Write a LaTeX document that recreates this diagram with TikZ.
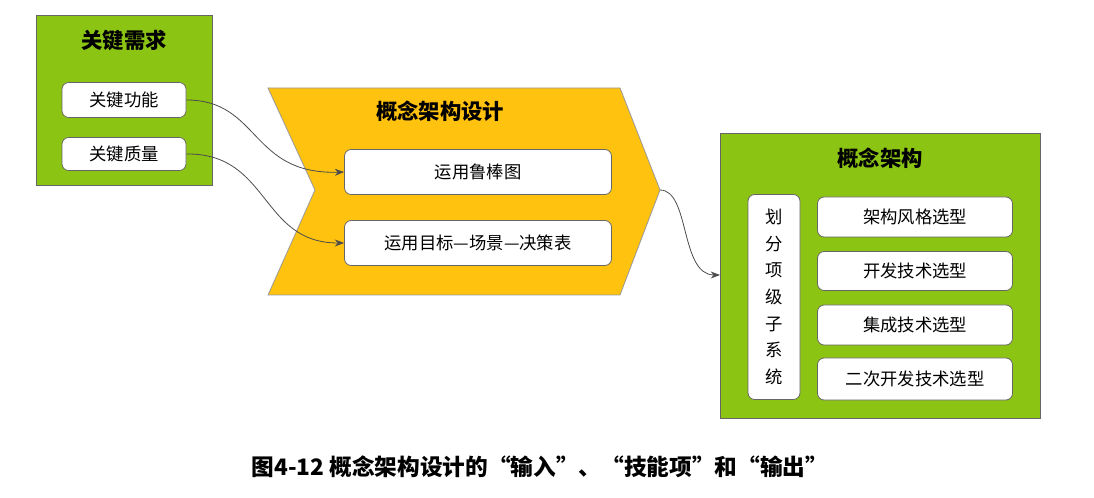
\documentclass[tikz,border=0pt]{standalone}
\usepackage{fontspec}
\setmainfont{Noto Sans CJK SC}
\usetikzlibrary{arrows.meta}
\definecolor{gr}{HTML}{8CC414}
\definecolor{yl}{HTML}{FFC20E}
\tikzset{
 panel/.style={draw=black!60,fill=gr,line width=0.8pt},
 wbox/.style={draw=black!60,fill=white,rounded corners=5pt,line width=0.6pt,font=\fontsize{13}{15}\selectfont},
 ttl/.style={font=\fontsize{16}{18}\selectfont\bfseries},
 conn/.style={draw=black!70,line width=0.6pt,-{Stealth[length=7pt]}}
}
\begin{document}
\begin{tikzpicture}[x=0.75pt,y=-0.75pt]
\useasboundingbox (0,0) rectangle (1094,498);
% left panel
\node[panel,minimum width=176*0.75pt,minimum height=170*0.75pt,anchor=north west] (lp) at (36,15) {};
\node[ttl] (lt) at (124,40) {关键需求};
\node[wbox,minimum width=124*0.75pt,minimum height=35*0.75pt] (kf) at (124,100) {关键功能};
\node[wbox,minimum width=124*0.75pt,minimum height=33*0.75pt] (kq) at (124,154) {关键质量};
% chevron
\draw[draw=black!40,fill=yl,line width=0.6pt] (268,88) -- (620,88) -- (660,190) -- (620,295) -- (268,295) -- (315,190) -- cycle;
\coordinate (tip) at (660,190);
\node[ttl] (ct) at (440,111) {概念架构设计};
\node[wbox,minimum width=267*0.75pt,minimum height=45*0.75pt] (r1) at (478,172) {运用鲁棒图};
\node[wbox,minimum width=267*0.75pt,minimum height=45*0.75pt] (r2) at (478,243) {运用目标—场景—决策表};
% right panel
\node[panel,minimum width=320*0.75pt,minimum height=285*0.75pt,anchor=north west] (rp) at (720,133) {};
\node[ttl] (rt) at (880,158) {概念架构};
\node[wbox,minimum width=52*0.75pt,minimum height=205*0.75pt,align=center,font=\fontsize{13}{20}\selectfont] (v) at (774,297) {划\\分\\项\\级\\子\\系\\统};
\node[wbox,minimum width=195*0.75pt,minimum height=40*0.75pt] (a1) at (915,217) {架构风格选型};
\node[wbox,minimum width=195*0.75pt,minimum height=39*0.75pt] (a2) at (915,271) {开发技术选型};
\node[wbox,minimum width=195*0.75pt,minimum height=40*0.75pt] (a3) at (915,325) {集成技术选型};
\node[wbox,minimum width=195*0.75pt,minimum height=42*0.75pt] (a4) at (915,379) {二次开发技术选型};
\coordinate (rin) at (720,275);
% connectors
\draw[conn] (kf.east) .. controls (260,100) and (250,175) .. (r1.west);
\draw[conn] (kq.east) .. controls (270,153) and (260,243) .. (r2.west);
\draw[conn] (tip) .. controls (690,190) and (680,275) .. (rin);
% caption
\node[font=\fontsize{17}{20}\selectfont\bfseries] (cap) at (540,467) {图4-12 概念架构设计的“输入”、“技能项”和“输出”};
\end{tikzpicture}
\end{document}
